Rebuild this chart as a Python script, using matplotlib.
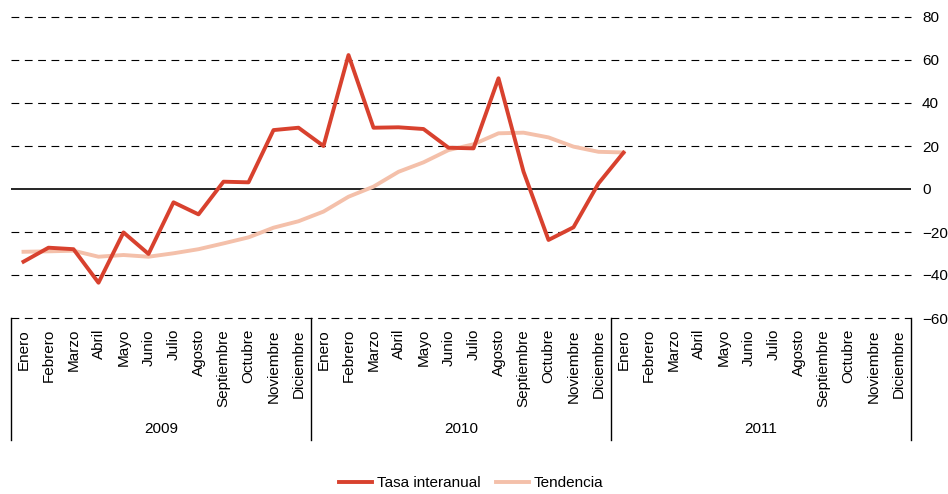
import matplotlib.pyplot as plt
import matplotlib.transforms as mtransforms

plt.rcParams['font.family'] = ['Liberation Sans', 'DejaVu Sans']

meses = ['Enero', 'Febrero', 'Marzo', 'Abril', 'Mayo', 'Junio', 'Julio',
         'Agosto', 'Septiembre', 'Octubre', 'Noviembre', 'Diciembre']
anios = ['2009', '2010', '2011']

tasa = [-33.8, -27.3, -28.0, -43.6, -20.2, -30.2, -6.2, -11.8, 3.4, 3.1, 27.4, 28.5,
        20.0, 62.3, 28.5, 28.7, 27.9, 19.2, 18.9, 51.5, 8.1, -23.7, -17.8, 2.6,
        16.9]
tendencia = [-29.2, -29.0, -28.7, -31.5, -30.7, -31.5, -29.9, -28.0, -25.3, -22.5, -18.0, -15.0,
             -10.5, -3.6, 1.1, 8.0, 12.4, 18.1, 20.8, 25.9, 26.2, 24.0, 19.7, 17.3,
             17.0]

rojo = '#d8412e'
rosa = '#f4c0aa'

fig = plt.figure(figsize=(9.48, 4.94), dpi=100)
ax = fig.add_axes([11/948, 1-318/494, 900/948, 301/494])

n = len(meses) * len(anios)
ax.set_xlim(-0.5, n - 0.5)
ax.set_ylim(-60, 80)

for y in range(-60, 81, 20):
    if y == 0:
        ax.axhline(0, color='black', lw=1.2, zorder=1)
    else:
        ax.axhline(y, color='black', lw=0.8, ls=(0, (7, 5)), zorder=1, clip_on=False)

ax.plot(range(len(tendencia)), tendencia, color=rosa, lw=2.8, label='Tendencia', zorder=3)
ax.plot(range(len(tasa)), tasa, color=rojo, lw=2.8, label='Tasa interanual', zorder=4)

for s in ax.spines.values():
    s.set_visible(False)

ax.yaxis.tick_right()
ax.set_yticks(range(-60, 81, 20))
ax.tick_params(axis='y', length=0, pad=8, labelsize=11)

ax.set_xticks(range(n))
ax.set_xticklabels(meses * len(anios), rotation=90, va='top', ha='center')
ax.tick_params(axis='x', length=0, pad=8, labelsize=11)

trans = mtransforms.blended_transform_factory(ax.transData, ax.transAxes)
for k in range(len(anios) + 1):
    ax.plot([k * 12 - 0.5] * 2, [0, -0.405], color='black', lw=1.0,
            transform=trans, clip_on=False)
for k, a in enumerate(anios):
    ax.text(k * 12 + 5.5, -0.37, a, transform=trans, ha='center', va='center', fontsize=11)

h, l = ax.get_legend_handles_labels()
fig.legend(h[::-1], l[::-1], loc='center', bbox_to_anchor=(0.497, 0.022), ncol=2,
           frameon=False, fontsize=11, handlelength=2.2, handletextpad=0.3,
           columnspacing=1.0)

fig.savefig('out.png', dpi=100)
